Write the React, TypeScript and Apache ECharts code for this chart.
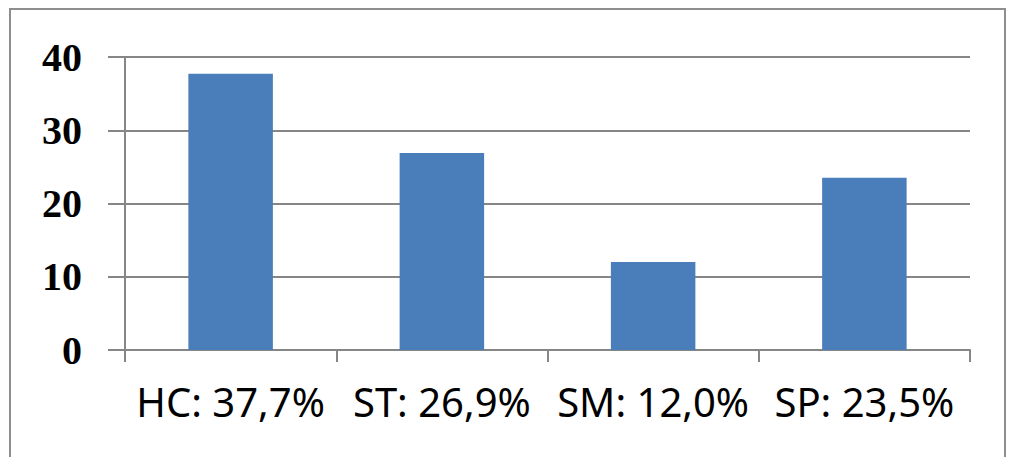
import React, { useEffect, useRef } from "react";
import * as echarts from "echarts";

const categories = ["HC: 37,7%", "ST: 26,9%", "SM: 12,0%", "SP: 23,5%"];
const values = [37.7, 26.9, 12.0, 23.5];
const yTicks = { min: 0, max: 40, interval: 10 };

export default function App() {
  const ref = useRef<HTMLDivElement>(null);
  useEffect(() => {
    const chart = echarts.init(ref.current!, undefined, { renderer: "svg" });
    chart.setOption({
      animation: false,
      backgroundColor: "#ffffff",
      graphic: [
        {
          type: "rect",
          shape: { x: 10, y: 9, width: 995, height: 470 },
          style: { fill: "none", stroke: "#8e8e8e", lineWidth: 2 },
          silent: true,
        },
      ],
      grid: { left: 125, right: 41, top: 57, bottom: 107 },
      xAxis: {
        type: "category",
        data: categories,
        boundaryGap: true,
        axisLine: { lineStyle: { color: "#868686", width: 2 } },
        axisTick: { show: true, length: 12, interval: 0, lineStyle: { color: "#868686", width: 2 } },
        axisLabel: {
          margin: 31,
          interval: 0,
          color: "#000",
          fontFamily: "Noto Sans",
          fontSize: 40,
        },
      },
      yAxis: {
        type: "value",
        min: yTicks.min,
        max: yTicks.max,
        interval: yTicks.interval,
        axisLine: { show: true, lineStyle: { color: "#868686", width: 2 } },
        axisTick: { show: true, length: 17, lineStyle: { color: "#868686", width: 2 } },
        splitLine: { show: true, lineStyle: { color: "#868686", width: 2 } },
        axisLabel: {
          margin: 43,
          color: "#000",
          fontFamily: "Liberation Serif",
          fontWeight: "bold",
          fontSize: 40,
        },
      },
      series: [
        {
          type: "bar",
          data: values,
          barWidth: "40%",
          itemStyle: { color: "#4a7ebb" },
        },
      ],
    });
    return () => chart.dispose();
  }, []);
  return (
    <div
      ref={ref}
      style={{ position: "absolute", left: 0, top: 0, width: 1011, height: 457 }}
    />
  );
}
